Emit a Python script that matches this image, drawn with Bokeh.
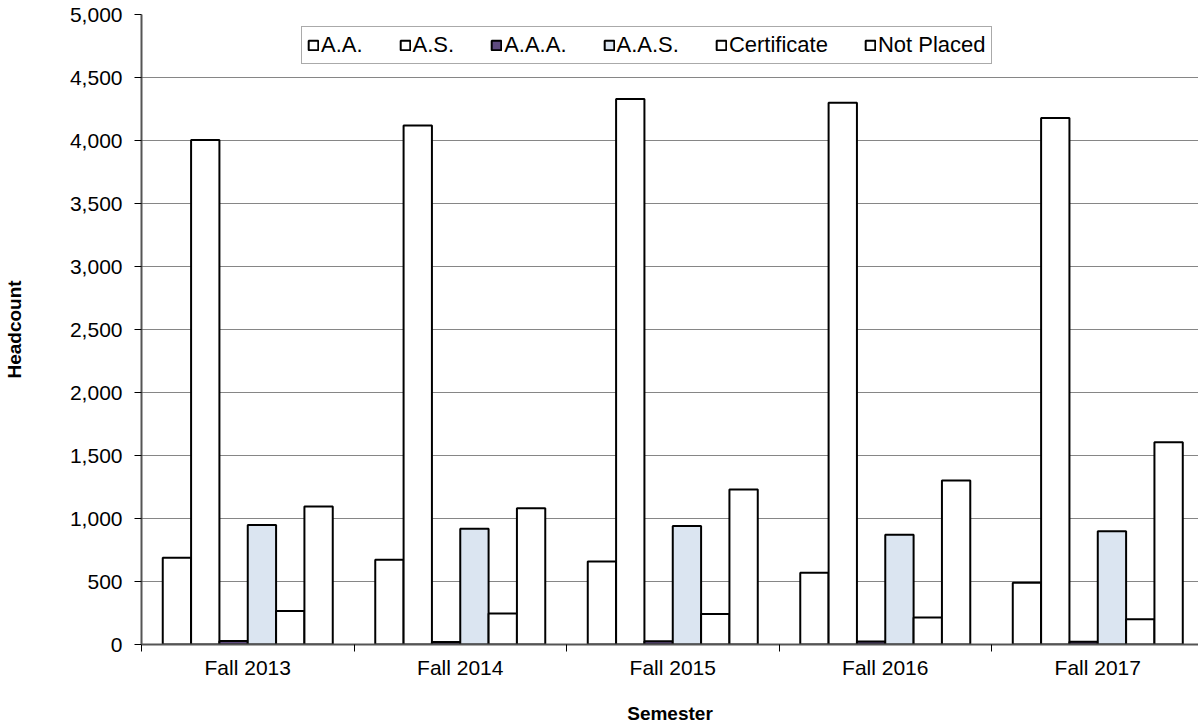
import numpy as np
from bokeh.plotting import figure
from bokeh.models import Range1d, FixedTicker, NumeralTickFormatter, Legend, LegendItem, ColumnDataSource
from bokeh.embed import file_html
from bokeh.resources import INLINE

semesters = ["Fall 2013", "Fall 2014", "Fall 2015", "Fall 2016", "Fall 2017"]
series_names = ["A.A.", "A.S.", "A.A.A.", "A.A.S.", "Certificate", "Not Placed"]
aa = [688, 672, 658, 570, 490]
as_ = [4003, 4120, 4330, 4300, 4178]
aaa = [28, 20, 25, 24, 22]
aas = [948, 918, 940, 872, 898]
cert = [265, 247, 242, 215, 200]
not_placed = [1095, 1082, 1230, 1302, 1606]
series_values = [aa, as_, aaa, aas, cert, not_placed]
fill_colors = ["white", "white", "#5f4b7f", "#dbe5f1", "white", "white"]

FONT = "Liberation Sans"

p = figure(width=1198, height=726, output_backend="svg", toolbar_location=None,
           x_range=Range1d(0, 4.974), y_range=Range1d(0, 5000),
           min_border_left=141, min_border_right=0, min_border_top=14, min_border_bottom=60)
p.outline_line_color = None
p.background_fill_color = "white"

n = len(series_names)
group = 0.8
w = group / n
idx = np.arange(len(semesters))
renderers = []
for i, (name, vals, col) in enumerate(zip(series_names, series_values, fill_colors)):
    src = ColumnDataSource(dict(x=idx + 0.1 + (i + 0.5) * w, top=vals))
    r = p.vbar(x="x", top="top", width=w, bottom=0, source=src,
               fill_color=col, line_color="black", line_width=2)
    renderers.append((name, r))

# axes
p.xgrid.visible = False
p.ygrid.grid_line_color = "#868686"
p.ygrid.grid_line_width = 1

p.yaxis.ticker = FixedTicker(ticks=list(range(0, 5001, 500)))
p.yaxis.formatter = NumeralTickFormatter(format="0,0")
p.yaxis.axis_label = "Headcount"
p.yaxis.axis_label_text_font = FONT
p.yaxis.axis_label_text_font_style = "bold"
p.yaxis.axis_label_text_font_size = "19px"
p.yaxis.axis_label_text_color = "black"
p.yaxis.axis_label_standoff = 42
p.yaxis.major_label_text_font = FONT
p.yaxis.major_label_text_font_size = "21px"
p.yaxis.major_label_text_color = "black"
p.yaxis.major_label_standoff = 12
p.yaxis.major_tick_out = 7
p.yaxis.major_tick_in = 0
p.yaxis.minor_tick_out = 0
p.yaxis.minor_tick_in = 0
p.yaxis.axis_line_color = "#555555"
p.yaxis.axis_line_width = 2
p.yaxis.major_tick_line_color = "black"

centers = [i + 0.5 for i in range(len(semesters))]
p.xaxis.ticker = FixedTicker(ticks=centers, minor_ticks=list(range(0, len(semesters) + 1)))
p.xaxis.major_label_overrides = {c: s for c, s in zip(centers, semesters)}
p.xaxis.axis_label = "Semester"
p.xaxis.axis_label_text_font = FONT
p.xaxis.axis_label_text_font_style = "bold"
p.xaxis.axis_label_text_font_size = "19px"
p.xaxis.axis_label_text_color = "black"
p.xaxis.axis_label_standoff = 21
p.xaxis.major_label_text_font = FONT
p.xaxis.major_label_text_font_size = "21px"
p.xaxis.major_label_text_color = "black"
p.xaxis.major_label_standoff = 4
p.xaxis.major_tick_out = 0
p.xaxis.major_tick_in = 0
p.xaxis.minor_tick_out = 7
p.xaxis.minor_tick_in = 0
p.xaxis.minor_tick_line_color = "black"
p.xaxis.axis_line_color = "#555555"
p.xaxis.axis_line_width = 2

legend = Legend(items=[LegendItem(label=nm, renderers=[r]) for nm, r in renderers],
                orientation="horizontal", location=(160, 580),
                label_text_font=FONT, label_text_font_size="22px", label_text_color="black",
                glyph_width=12, glyph_height=12, label_standoff=2, spacing=36,
                padding=5, border_line_color="#555555", border_line_width=1.5,
                background_fill_color="white", background_fill_alpha=1.0)
p.add_layout(legend, "center")

open("out.html", "w").write(file_html(p, INLINE))
